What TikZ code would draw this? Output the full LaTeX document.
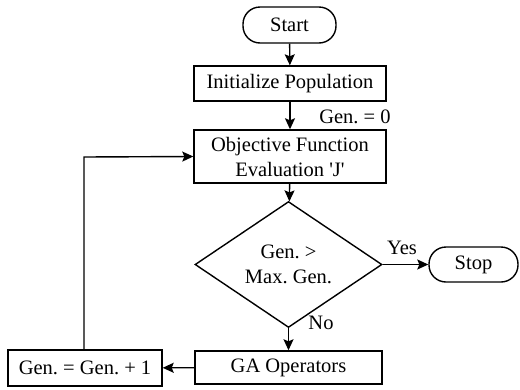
\documentclass[tikz,border=0pt]{standalone}
\usepackage{fontspec}
\setmainfont{Liberation Serif}
\usetikzlibrary{shapes.geometric,arrows.meta}
\begin{document}
\frenchspacing
\begin{tikzpicture}[x=1pt,y=-1pt,
  every node/.style={font=\fontsize{20.5}{25}\selectfont},
  box/.style={draw,line width=1.4pt,inner sep=0pt,align=center},
  term/.style={box,rounded corners=17pt},
  dec/.style={draw,line width=1.4pt,diamond,inner sep=0pt,align=center,minimum width=187pt,minimum height=93pt},
  conn/.style={line width=1.4pt,-{Stealth[length=11pt,width=10pt,inset=2pt]}},
  lbl/.style={inner sep=0pt}]
\useasboundingbox (0,0) rectangle (520,389);
\node[term,minimum width=93pt,minimum height=36pt] (start) at (289.5,25) {Start};
\node[box,minimum width=192pt,minimum height=35pt] (init) at (290,83.5) {Initialize Population};
\node[box,minimum width=192pt,minimum height=53pt] (obj) at (290,156.5) {Objective Function\\Evaluation \textquotesingle J\textquotesingle};
\node[dec] (d) at (288.5,264.5) {Gen. >\\Max. Gen.};
\node[term,minimum width=89pt,minimum height=35pt] (stop) at (473.5,264.5) {Stop};
\node[box,minimum width=187pt,minimum height=33pt] (ga) at (288.5,367.5) {GA Operators};
\node[box,minimum width=154pt,minimum height=36pt] (inc) at (85,368) {Gen. = Gen. + 1};
\coordinate (c1) at (84,157);
\draw[conn] (start) -- (init);
\draw[conn] (init) -- (obj);
\draw[conn] (obj) -- (d);
\draw[conn] (d) -- (stop);
\draw[conn] (d) -- (ga);
\draw[conn] (ga) -- (inc);
\draw[conn] (inc.north -| c1) -- (c1) -- (obj.west);
\node[lbl] (g0) at (355,117) {Gen. = 0};
\node[lbl] (yes) at (402,248) {Yes};
\node[lbl] (no) at (321,323) {No};
\end{tikzpicture}
\end{document}
